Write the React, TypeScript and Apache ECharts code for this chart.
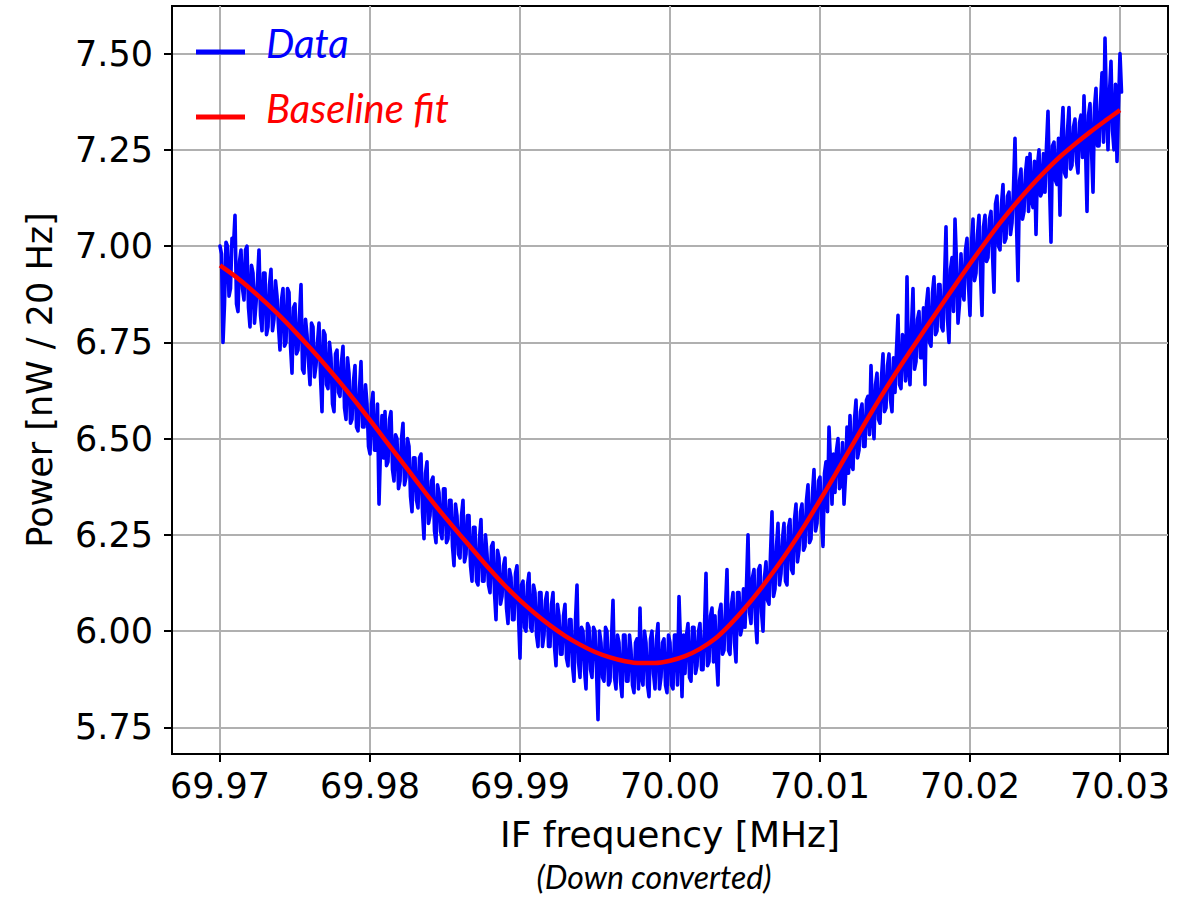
import React, { useEffect, useRef } from "react";
import * as echarts from "echarts";

// Sampling grid of the measured spectrum (MHz)
const freqStart = 69.97;
const dataStep = 0.0001;
const fitStep = 0.001;

// Measured power [nW / 20 Hz], one value per dataStep starting at freqStart
const powerData = [
  7.00, 6.98, 6.75, 6.85, 7.01, 7.00, 6.87, 6.89, 7.02, 7.00,
  7.08, 6.85, 6.83, 6.96, 6.99, 6.89, 6.86, 6.99, 7.00, 6.84,
  6.79, 6.95, 6.93, 6.80, 6.85, 6.91, 6.99, 6.82, 6.78, 6.93,
  6.93, 6.77, 6.79, 6.90, 6.94, 6.78, 6.81, 6.91, 6.87, 6.79,
  6.73, 6.86, 6.89, 6.74, 6.75, 6.89, 6.88, 6.74, 6.67, 6.84,
  6.85, 6.72, 6.73, 6.82, 6.90, 6.68, 6.67, 6.81, 6.77, 6.70,
  6.64, 6.80, 6.79, 6.66, 6.69, 6.75, 6.80, 6.66, 6.57, 6.78,
  6.77, 6.64, 6.63, 6.75, 6.71, 6.59, 6.57, 6.72, 6.73, 6.62,
  6.61, 6.70, 6.74, 6.58, 6.55, 6.71, 6.67, 6.54, 6.55, 6.65,
  6.69, 6.53, 6.52, 6.63, 6.70, 6.53, 6.53, 6.64, 6.59, 6.48,
  6.46, 6.59, 6.62, 6.47, 6.47, 6.59, 6.33, 6.47, 6.56, 6.45,
  6.57, 6.43, 6.44, 6.55, 6.57, 6.42, 6.39, 6.51, 6.50, 6.37,
  6.39, 6.50, 6.54, 6.38, 6.40, 6.50, 6.48, 6.35, 6.31, 6.45,
  6.45, 6.34, 6.32, 6.45, 6.46, 6.31, 6.24, 6.41, 6.44, 6.28,
  6.30, 6.39, 6.40, 6.26, 6.23, 6.38, 6.36, 6.26, 6.24, 6.37,
  6.37, 6.23, 6.24, 6.34, 6.34, 6.22, 6.17, 6.33, 6.30, 6.20,
  6.19, 6.30, 6.34, 6.18, 6.20, 6.30, 6.30, 6.17, 6.13, 6.27,
  6.27, 6.13, 6.12, 6.24, 6.29, 6.13, 6.13, 6.25, 6.20, 6.12,
  6.10, 6.22, 6.23, 6.10, 6.03, 6.21, 6.19, 6.07, 6.09, 6.17,
  6.19, 6.06, 6.02, 6.16, 6.14, 6.03, 6.03, 6.15, 6.17, 6.04,
  5.93, 6.12, 6.13, 6.01, 6.00, 6.12, 6.15, 6.01, 6.00, 6.12,
  6.10, 5.99, 5.96, 6.10, 6.10, 5.96, 5.99, 6.08, 6.10, 5.96,
  5.96, 6.07, 6.10, 5.96, 5.91, 6.07, 6.04, 5.94, 5.94, 6.04,
  6.07, 5.93, 5.91, 6.03, 6.03, 5.91, 5.87, 6.03, 6.12, 5.92,
  5.88, 6.01, 6.00, 5.90, 5.85, 6.02, 6.01, 5.90, 5.88, 6.01,
  6.00, 5.90, 5.77, 6.00, 5.97, 5.88, 5.87, 6.01, 6.00, 5.86,
  5.87, 5.98, 6.08, 5.88, 5.85, 5.99, 5.97, 5.87, 5.83, 5.99,
  5.99, 5.87, 5.87, 5.99, 5.95, 5.86, 5.84, 5.97, 5.98, 5.85,
  6.06, 5.88, 5.86, 6.00, 5.97, 5.86, 5.83, 5.98, 6.00, 5.89,
  5.85, 5.98, 6.02, 5.85, 5.88, 5.97, 5.98, 5.86, 5.84, 5.99,
  5.97, 5.86, 5.85, 5.99, 5.99, 5.86, 6.09, 5.97, 5.83, 5.99,
  5.89, 5.99, 6.02, 5.88, 5.87, 6.01, 6.01, 5.89, 5.91, 6.00,
  6.02, 5.90, 5.90, 6.01, 6.15, 5.91, 5.92, 6.04, 6.06, 5.92,
  6.04, 5.93, 5.86, 6.05, 6.07, 5.94, 5.95, 6.06, 6.16, 5.95,
  5.94, 6.07, 6.10, 5.97, 5.92, 6.10, 6.10, 5.99, 6.01, 6.11,
  6.01, 6.12, 6.25, 6.05, 6.02, 6.14, 6.16, 6.03, 5.97, 6.16,
  6.17, 6.05, 6.00, 6.14, 6.18, 6.08, 6.07, 6.20, 6.31, 6.09,
  6.11, 6.22, 6.28, 6.12, 6.15, 6.24, 6.28, 6.13, 6.12, 6.27,
  6.29, 6.16, 6.15, 6.29, 6.33, 6.18, 6.21, 6.31, 6.33, 6.21,
  6.22, 6.34, 6.38, 6.23, 6.24, 6.36, 6.42, 6.26, 6.28, 6.39,
  6.40, 6.29, 6.22, 6.41, 6.44, 6.31, 6.53, 6.44, 6.33, 6.46,
  6.36, 6.47, 6.50, 6.37, 6.38, 6.49, 6.33, 6.40, 6.53, 6.41,
  6.56, 6.43, 6.42, 6.55, 6.60, 6.45, 6.47, 6.57, 6.59, 6.48,
  6.48, 6.60, 6.61, 6.51, 6.69, 6.56, 6.50, 6.64, 6.67, 6.55,
  6.54, 6.66, 6.72, 6.57, 6.58, 6.69, 6.72, 6.60, 6.57, 6.71,
  6.62, 6.73, 6.82, 6.64, 6.63, 6.77, 6.75, 6.65, 6.92, 6.68,
  6.64, 6.79, 6.89, 6.68, 6.70, 6.81, 6.83, 6.71, 6.71, 6.84,
  6.64, 6.85, 6.89, 6.75, 6.74, 6.88, 6.92, 6.77, 6.78, 6.90,
  6.90, 6.79, 6.78, 6.91, 7.05, 6.81, 6.75, 6.94, 6.97, 6.83,
  7.07, 6.96, 6.80, 6.85, 6.98, 6.88, 6.86, 6.99, 7.02, 6.90,
  6.82, 7.01, 7.07, 6.91, 6.93, 7.03, 7.08, 6.93, 6.82, 7.05,
  7.08, 6.96, 6.97, 7.07, 7.09, 6.98, 6.88, 7.11, 7.13, 7.00,
  6.99, 7.11, 7.16, 7.01, 7.02, 7.13, 7.14, 7.03, 7.06, 7.15,
  7.28, 7.06, 6.91, 7.17, 7.20, 7.07, 7.09, 7.19, 7.23, 7.09,
  7.24, 7.12, 7.10, 7.22, 7.03, 7.21, 7.25, 7.13, 7.14, 7.24,
  7.14, 7.26, 7.35, 7.16, 7.01, 7.26, 7.27, 7.17, 7.16, 7.28,
  7.08, 7.29, 7.36, 7.19, 7.18, 7.30, 7.36, 7.20, 7.21, 7.31,
  7.33, 7.22, 7.19, 7.32, 7.34, 7.23, 7.39, 7.26, 7.09, 7.34,
  7.37, 7.25, 7.14, 7.36, 7.41, 7.26, 7.26, 7.37, 7.45, 7.27,
  7.54, 7.36, 7.25, 7.40, 7.48, 7.30, 7.25, 7.42, 7.22, 7.36,
  7.50, 7.40,
];

// Baseline fit, one value per fitStep starting at freqStart
const baselineFit = [
  6.950, 6.922, 6.890, 6.855, 6.818, 6.778, 6.736, 6.692, 6.646, 6.598,
  6.548, 6.497, 6.446, 6.395, 6.344, 6.296, 6.250, 6.205, 6.160, 6.118,
  6.080, 6.046, 6.015, 5.988, 5.965, 5.946, 5.932, 5.922, 5.917, 5.917,
  5.923, 5.935, 5.954, 5.980, 6.017, 6.060, 6.108, 6.160, 6.216, 6.276,
  6.340, 6.406, 6.473, 6.540, 6.605, 6.667, 6.726, 6.784, 6.841, 6.898,
  6.954, 7.008, 7.060, 7.108, 7.153, 7.194, 7.232, 7.265, 7.296, 7.325,
  7.353,
];

const xTicks = [69.97, 69.98, 69.99, 70.0, 70.01, 70.02, 70.03];
const yTicks = [5.75, 6.0, 6.25, 6.5, 6.75, 7.0, 7.25, 7.5];
const xRange = [69.9668, 70.0332];
const yRange = [5.681, 7.6235];

const seriesNames = ["Data", "Baseline fit"];
const xTitle = "IF frequency [MHz]";
const yTitle = "Power [nW / 20 Hz]";
const subTitle = "(Down converted)";

export default function App() {
  const ref = useRef<HTMLDivElement>(null);
  useEffect(() => {
    const chart = echarts.init(ref.current!, null, { renderer: "svg" });
    const dataPts = powerData.map((v, i) => [+(freqStart + i * dataStep).toFixed(5), v]);
    const fitPts = baselineFit.map((v, i) => [+(freqStart + i * fitStep).toFixed(4), v]);
    const tickFont = { fontFamily: "DejaVu Sans", fontSize: 35, color: "#000" };
    const gridLine = { show: true, lineStyle: { color: "#b0b0b0", width: 2 } };
    const axisLine = { show: true, onZero: false, lineStyle: { color: "#000", width: 2 } };
    const axisTickBase = { show: true, inside: false, length: 8, lineStyle: { color: "#000", width: 2 } };
    chart.setOption({
      animation: false,
      backgroundColor: "#fff",
      grid: {
        left: 172,
        right: 26,
        top: 6,
        bottom: 150,
        show: true,
        borderColor: "#000",
        borderWidth: 2,
        backgroundColor: "transparent",
      },
      xAxis: {
        type: "value",
        min: xRange[0],
        max: xRange[1],
        axisLine,
        axisTick: { ...axisTickBase, customValues: xTicks },
        axisLabel: {
          ...tickFont,
          customValues: xTicks,
          margin: 14,
          formatter: (v: number) => v.toFixed(2),
        },
        splitLine: gridLine,
        name: xTitle,
        nameLocation: "middle",
        nameGap: 62,
        nameTextStyle: { fontFamily: "DejaVu Sans", fontSize: 36, color: "#000" },
      },
      yAxis: {
        type: "value",
        min: yRange[0],
        max: yRange[1],
        axisLine,
        axisTick: { ...axisTickBase, customValues: yTicks },
        axisLabel: {
          ...tickFont,
          customValues: yTicks,
          margin: 19,
          formatter: (v: number) => v.toFixed(2),
        },
        splitLine: gridLine,
        name: yTitle,
        nameLocation: "middle",
        nameGap: 115,
        nameTextStyle: { fontFamily: "DejaVu Sans", fontSize: 35, color: "#000" },
      },
      series: [
        {
          name: seriesNames[0],
          type: "line",
          data: dataPts,
          showSymbol: false,
          silent: true,
          lineStyle: { color: "#0000ff", width: 3.6, join: "round", cap: "round" },
          z: 2,
        },
        {
          name: seriesNames[1],
          type: "line",
          data: fitPts,
          showSymbol: false,
          silent: true,
          smooth: 0.3,
          lineStyle: { color: "#ff0000", width: 4.5 },
          z: 3,
        },
      ],
      graphic: [
        { type: "line", shape: { x1: 196, y1: 52, x2: 245, y2: 52 }, style: { stroke: "#0000ff", lineWidth: 5 }, z: 10 },
        { type: "line", shape: { x1: 196, y1: 117, x2: 245, y2: 117 }, style: { stroke: "#ff0000", lineWidth: 5 }, z: 10 },
        {
          type: "text",
          x: 266,
          y: 43,
          z: 10,
          style: {
            text: seriesNames[0],
            fill: "#0000ff",
            font: "italic 40px Lato",
            textAlign: "left",
            textVerticalAlign: "middle",
          },
        },
        {
          type: "text",
          x: 266,
          y: 108,
          z: 10,
          style: {
            text: seriesNames[1],
            fill: "#ff0000",
            font: "italic 40px Lato",
            textAlign: "left",
            textVerticalAlign: "middle",
          },
        },
        {
          type: "text",
          x: 654,
          y: 876,
          style: {
            text: subTitle,
            fill: "#000",
            font: "italic 32px Lato",
            textAlign: "center",
            textVerticalAlign: "middle",
          },
        },
      ],
    });
    return () => chart.dispose();
  }, []);
  return (
    <div
      ref={ref}
      style={{ position: "fixed", left: 0, top: 0, width: 1194, height: 904, background: "#fff" }}
    />
  );
}
